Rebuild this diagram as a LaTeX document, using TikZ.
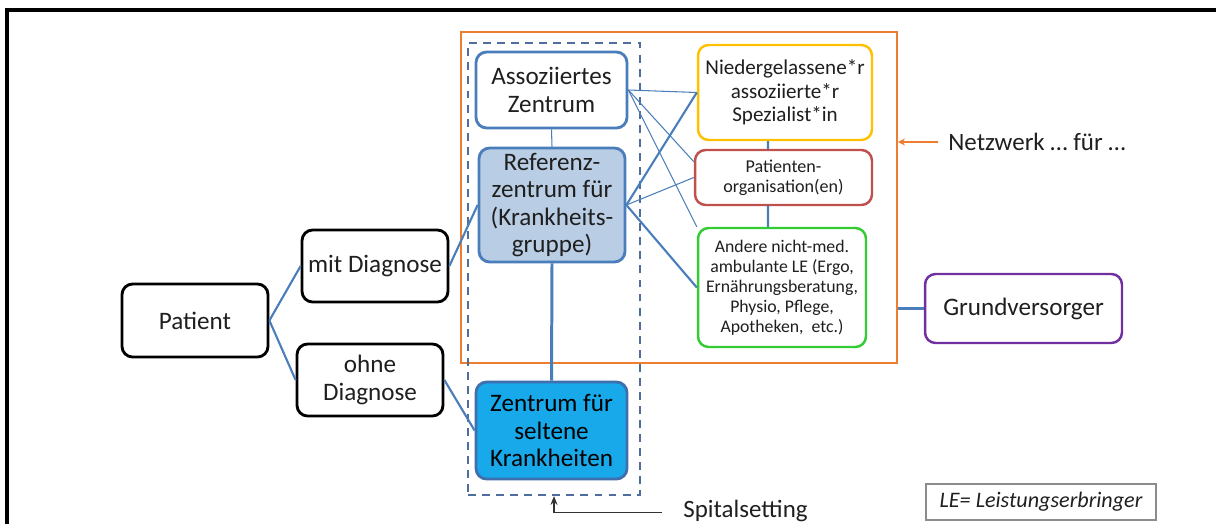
\documentclass[tikz,border=0pt]{standalone}
\usepackage{fontspec}
\setmainfont{Carlito}
\usepackage{xcolor}
\usepackage{tikz}
\usetikzlibrary{arrows.meta}
\definecolor{boxblue}{HTML}{4A7EBB}
\definecolor{reffill}{HTML}{B9CDE5}
\definecolor{rarefill}{HTML}{17A9E9}
\definecolor{rareline}{HTML}{3F6FAE}
\definecolor{netzorange}{HTML}{ED7D31}
\definecolor{specyellow}{HTML}{FFC000}
\definecolor{orgred}{HTML}{C0504D}
\definecolor{leGreen}{HTML}{33CC33}
\definecolor{gvpurple}{HTML}{7030A0}
\definecolor{dashblue}{HTML}{4F6E9D}
\definecolor{txt}{HTML}{1F1F1F}
\tikzset{
  box/.style={rectangle, rounded corners=6pt, draw, line width=1.6pt, fill=white, align=center, inner sep=2pt, text=txt},
  blackbox/.style={box, draw=black, minimum width=2.92cm, minimum height=1.44cm, font=\fontsize{14.3}{15.6}\selectfont},
  bluebox/.style={box, draw=boxblue, font=\fontsize{14.3}{15.6}\selectfont},
  sidebox/.style={box, line width=1.4pt},
  thinlink/.style={draw=boxblue, line width=0.6pt},
  thicklink/.style={draw=boxblue, line width=1.2pt}
}

\begin{document}
\begin{tikzpicture}[x=0.02cm, y=-0.02cm]
        \useasboundingbox (0,0) rectangle (1216,524);
        \draw[line width=2pt] (7,524) -- (7,10) -- (1216,10);

        % frames
        \node[rectangle, draw=netzorange, line width=1.1pt, minimum width=8.72cm, minimum height=6.62cm] (netz) at (679,197.5) {};
        \node[rectangle, draw=dashblue, line width=1.3pt, dash pattern=on 4.5pt off 3.5pt, minimum width=3.44cm, minimum height=9.04cm] (spital) at (554,269) {};

        % boxes
        \node[bluebox, minimum width=3.02cm, minimum height=1.52cm] (assoz) at (551.5,90) {Assoziiertes\\Zentrum};
        \node[bluebox, fill=reffill, minimum width=2.92cm, minimum height=2.28cm] (referenz) at (552,205) {Referenz-\\zentrum für\\(Krankheits-\\gruppe)};
        \node[bluebox, draw=rareline, fill=rarefill, text=black, minimum width=3.02cm, minimum height=1.94cm] (selten) at (551.5,430.5) {Zentrum für\\seltene\\Krankheiten};
        \node[sidebox, draw=specyellow, minimum width=3.48cm, minimum height=1.9cm, font=\fontsize{12}{13.4}\selectfont] (nieder) at (785,92.5) {Niedergelassene*r\\assoziierte*r\\Spezialist*in};
        \node[sidebox, draw=orgred, minimum width=3.54cm, minimum height=1.1cm, font=\fontsize{10.3}{11.4}\selectfont] (porg) at (783.5,177.5) {Patienten-\\organisation(en)};
        \node[sidebox, draw=leGreen, minimum width=3.36cm, minimum height=2.38cm, font=\fontsize{10.1}{11.4}\selectfont] (andere) at (782,287.5) {Andere nicht-med.\\ambulante LE (Ergo,\\Ernährungsberatung,\\Physio, Pflege,\\Apotheken,\ \ etc.)};
        \node[blackbox, minimum height=1.46cm] (patient) at (195,320.5) {Patient};
        \node[blackbox] (mit) at (375,266) {mit Diagnose};
        \node[blackbox] (ohne) at (370,380) {ohne\\Diagnose};
        \node[sidebox, draw=gvpurple, minimum width=3.94cm, minimum height=1.38cm, font=\fontsize{14.3}{15.6}\selectfont] (grund) at (1023.5,308.5) {Grundversorger};
        \node[rectangle, draw=black!45, line width=0.8pt, minimum width=4.6cm, minimum height=0.72cm, text=txt, font=\fontsize{12.6}{14}\selectfont\itshape] (le) at (1041,502) {LE= Leistungserbringer};

        % labels
        \node[anchor=west, inner sep=0pt, text=txt, font=\fontsize{14.2}{16}\selectfont] (netzlabel) at (948,142) {Netzwerk … für …};
        \node[anchor=west, inner sep=0pt, text=txt, font=\fontsize{14.2}{16}\selectfont] (spitallabel) at (683,511) {Spitalsetting};

        \foreach \from/\to in {
          patient.east/mit.west, patient.east/ohne.west,
          mit.east/referenz.west, ohne.east/selten.west,
          referenz.east/nieder.west, referenz.east/andere.west}
        \draw[thicklink] (\from) -- (\to);
        \draw[thicklink, line width=1.7pt] (referenz.south) -- (selten.north);

        \foreach \from/\to in {
          assoz.south/referenz.north,
          assoz.east/nieder.west, assoz.east/porg.170, assoz.east/andere.north west,
          referenz.east/porg.west}
        \draw[thinlink] (\from) -- (\to);

        \draw[thicklink] ([xshift=-0.34cm]nieder.south) -- ([xshift=-0.31cm]porg.north);
        \draw[thicklink] ([xshift=-0.31cm]porg.south) -- ([xshift=-0.28cm]andere.north);
        \draw[thicklink] (grund.west) -- (grund.west -| netz.east);

        \draw[netzorange, line width=0.8pt, -{Stealth[length=4pt, width=4pt]}] ([xshift=-0.2cm]netzlabel.west) -- (netzlabel.west -| netz.east);
        \draw[black!80, line width=0.8pt, -{Stealth[length=5pt, width=4pt]}] ([xshift=-0.42cm, yshift=-1pt]spitallabel.west) -| (spital.south);
      \end{tikzpicture}
\end{document}
